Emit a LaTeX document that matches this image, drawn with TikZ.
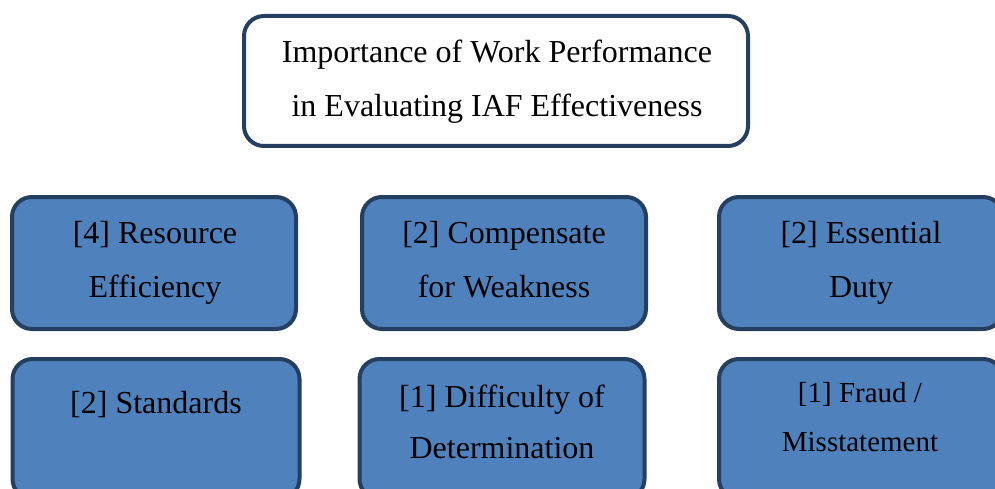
\documentclass[tikz,border=0pt]{standalone}
\usepackage{fontspec}
\setmainfont{Liberation Serif}
\definecolor{boxline}{HTML}{243F60}
\definecolor{boxfill}{HTML}{4F81BD}
\begin{document}
\begin{tikzpicture}[x=1pt,y=-1pt,
  frame/.style={draw=boxline,line width=4pt,rounded corners=20pt,inner sep=0pt,outer sep=0pt},
  headbox/.style={frame,fill=white},
  itembox/.style={frame,fill=boxfill},
  txt/.style={anchor=base,inner sep=0pt,font=\fontsize{32}{38}\selectfont},
  smalltxt/.style={anchor=base,inner sep=0pt,font=\fontsize{29}{34}\selectfont}]
\useasboundingbox (0,0) rectangle (995,489);
\clip (0,0) rectangle (995,489);
% header
\node[headbox,minimum width=504pt,minimum height=130pt] (head) at (496,81) {};
\node[txt] (headA) at (497,63) {Importance of Work Performance};
\node[txt] (headB) at (497,117) {in Evaluating IAF Effectiveness};
% row 1
\node[itembox,minimum width=284pt,minimum height=132pt] (b1) at (154,263) {};
\node[txt] (b1a) at (155,243) {[4] Resource};
\node[txt] (b1b) at (155,297) {Efficiency};
\node[itembox,minimum width=284pt,minimum height=132pt] (b2) at (504,263) {};
\node[txt] (b2a) at (504,243) {[2] Compensate};
\node[txt] (b2b) at (504,297) {for Weakness};
\node[itembox,minimum width=284pt,minimum height=132pt] (b3) at (861,263) {};
\node[txt] (b3a) at (861,243) {[2] Essential};
\node[txt] (b3b) at (861,297) {Duty};
% row 2
\node[itembox,minimum width=287pt,minimum height=140pt] (c1) at (156,429) {};
\node[txt] (c1a) at (156,413) {[2] Standards};
\node[itembox,minimum width=285pt,minimum height=140pt] (c2) at (502,429) {};
\node[txt] (c2a) at (502,407) {[1] Difficulty of};
\node[txt] (c2b) at (502,458) {Determination};
\node[itembox,minimum width=284pt,minimum height=140pt] (c3) at (861,429) {};
\node[smalltxt] (c3a) at (860,402) {[1] Fraud /};
\node[smalltxt] (c3b) at (860,451) {Misstatement};
\end{tikzpicture}
\end{document}
